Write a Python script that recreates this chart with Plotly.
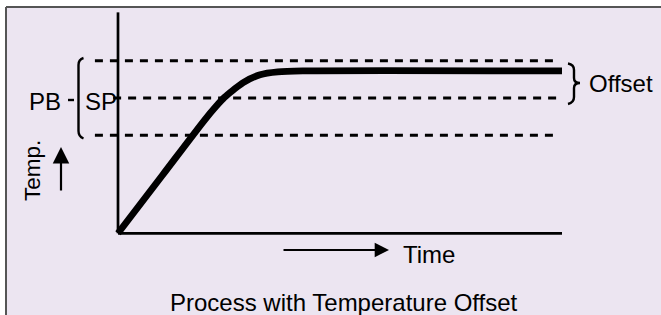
import plotly.graph_objects as go

W, H = 661, 315

# ---- data (time units 0..100, temperature units with setpoint = 100) ----
time = [0, 10, 19.5, 22, 24, 26, 28.2, 32, 36, 42, 100]
temp = [0, 42.9, 83.7, 93.5, 100.5, 106, 111.4, 117.2, 119.3, 120, 120]
setpoint = 100
band_half = 27.5
t_end = 100
band_start = -5.2
sp_start = -1.1
band_end = 99.5
temp_axis_top = 163.3

# ---- pixel mapping of the chart frame ----
X0, XS = 118.0, 4.44     # px of time 0, px per time unit
Y0, YS = 233.3, 1.353    # px of temp 0, px per temp unit

def PX(px):
    return px / W

def PY(py):
    return 1 - py / H

FONT = "Liberation Sans, Arial, Helvetica, sans-serif"
BG = "#ECE5F1"

fig = go.Figure()

# axes
fig.add_trace(go.Scatter(x=[0, t_end], y=[0, 0], mode="lines",
                         line=dict(color="black", width=2.7), hoverinfo="skip"))
fig.add_trace(go.Scatter(x=[0, 0], y=[0, temp_axis_top], mode="lines",
                         line=dict(color="black", width=2.7), hoverinfo="skip"))

# proportional band and setpoint lines
dash = dict(color="black", width=2.9, dash="8px,7px")
fig.add_trace(go.Scatter(x=[band_start, band_end], y=[setpoint + band_half] * 2,
                         mode="lines", line=dash, hoverinfo="skip"))
fig.add_trace(go.Scatter(x=[sp_start, band_end], y=[setpoint] * 2,
                         mode="lines", line=dash, hoverinfo="skip"))
fig.add_trace(go.Scatter(x=[band_start, band_end], y=[setpoint - band_half] * 2,
                         mode="lines", line=dash, hoverinfo="skip"))

# process curve
fig.add_trace(go.Scatter(x=time, y=temp, mode="lines",
                         line=dict(color="black", width=6.8, shape="spline", smoothing=0.8),
                         hoverinfo="skip"))

shapes = []
# panel background and border
shapes.append(dict(type="rect", xref="paper", yref="paper",
                   x0=PX(6), x1=1.01, y0=-0.01, y1=PY(7),
                   fillcolor=BG, line=dict(width=0), layer="below"))
shapes.append(dict(type="line", xref="paper", yref="paper",
                   x0=PX(6), x1=1.01, y0=PY(7), y1=PY(7),
                   line=dict(color="#555555", width=2), layer="below"))
shapes.append(dict(type="line", xref="paper", yref="paper",
                   x0=PX(6), x1=PX(6), y0=PY(7), y1=-0.01,
                   line=dict(color="#555555", width=2), layer="below"))

def path(pts):
    out = []
    for cmd, coords in pts:
        s = cmd
        for (a, b) in coords:
            s += f" {PX(a):.5f},{PY(b):.5f}"
        out.append(s)
    return " ".join(out)

# left bracket (PB)
shapes.append(dict(type="path", xref="paper", yref="paper",
                   path=path([("M", [(83.5, 58)]), ("Q", [(78.5, 59.5), (78.5, 65)]),
                              ("L", [(78.5, 131)]), ("Q", [(78.5, 136.5), (83.5, 138.5)])]),
                   line=dict(color="black", width=2.4)))
shapes.append(dict(type="line", xref="paper", yref="paper",
                   x0=PX(68), x1=PX(74), y0=PY(100), y1=PY(100),
                   line=dict(color="black", width=2.4)))
# right bracket (Offset)
shapes.append(dict(type="path", xref="paper", yref="paper",
                   path=path([("M", [(568, 63.5)]), ("Q", [(574, 64.5), (574, 70)]),
                              ("L", [(574, 78)]), ("Q", [(574, 83), (580, 83)]),
                              ("Q", [(574, 83), (574, 88)]),
                              ("L", [(574, 97)]), ("Q", [(574, 102.5), (568, 104)])]),
                   line=dict(color="black", width=2.4)))

annotations = []
def txt(text, x, y, size=24, xanchor="center", angle=0):
    annotations.append(dict(text=text, xref="paper", yref="paper", x=PX(x), y=PY(y),
                            xanchor=xanchor, yanchor="middle", showarrow=False,
                            textangle=angle, font=dict(family=FONT, size=size, color="black")))

txt("PB", 26.5, 101.5, xanchor="left")
txt("SP", 82.5, 101.5, xanchor="left")
txt("Offset", 587, 84, xanchor="left")
txt("Temp.", 32, 171, size=22.5, angle=-90)
txt("Time", 401, 254, xanchor="left")
txt("Process with Temperature Offset", 343.5, 302)

# arrows
annotations.append(dict(text="", xref="paper", yref="paper", x=PX(61), y=PY(147),
                        ax=0, ay=45, showarrow=True, arrowhead=2, arrowsize=1.5,
                        arrowwidth=2.2, arrowcolor="black"))
annotations.append(dict(text="", xref="paper", yref="paper", x=PX(389), y=PY(250),
                        ax=-107, ay=0, showarrow=True, arrowhead=2, arrowsize=1.3,
                        arrowwidth=2.2, arrowcolor="black"))

fig.update_layout(
    width=W, height=H, autosize=False,
    margin=dict(l=0, r=0, t=0, b=0),
    paper_bgcolor="white", plot_bgcolor="rgba(0,0,0,0)",
    showlegend=False,
    xaxis=dict(range=[-X0 / XS, (W - X0) / XS], visible=False, fixedrange=True),
    yaxis=dict(range=[-(H - Y0) / YS, Y0 / YS], visible=False, fixedrange=True),
    shapes=shapes, annotations=annotations,
)

fig.write_html("out.html", config={"displayModeBar": False},
               post_script="document.body.style.margin='0';document.body.style.overflow='hidden';")
